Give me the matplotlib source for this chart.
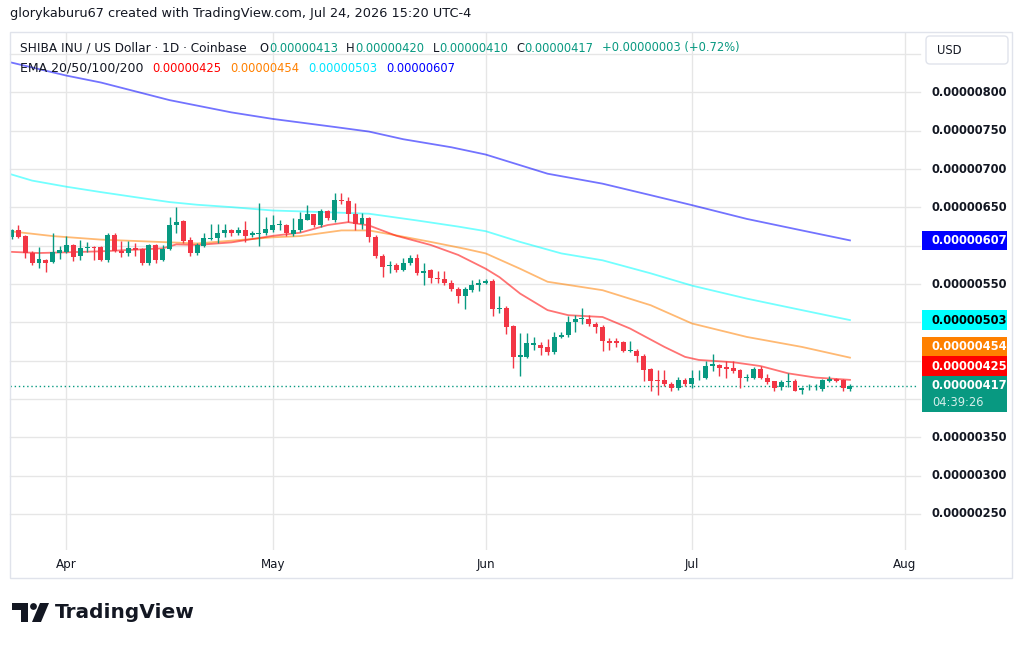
import numpy as np
import pandas as pd
import matplotlib
matplotlib.use('Agg')
import matplotlib.pyplot as plt
import matplotlib.dates as mdates
from matplotlib.patches import Rectangle, FancyBboxPatch, Polygon, Circle

# all prices are in units of 1e-8 USD (0.00000001)
SCALE = 1e-8

dates = pd.date_range('2026-03-24', '2026-07-24', freq='D')

opens = [611, 621, 613, 591, 577, 582, 579, 591,
         592, 601, 587, 597, 599, 599, 581, 614, 593, 590, 597, 596, 577, 601, 582,
         596, 627, 632, 607, 590, 600, 609, 610, 616, 620, 616, 621, 614, 615, 616,
         621, 627, 627, 615, 620, 634, 641, 627, 645, 634, 660, 658, 642, 628, 636,
         612, 587, 573, 575, 569, 577, 584, 565, 568, 558, 556, 552, 544, 535, 542, 549,
         552, 554, 517, 519, 495, 455, 455, 471, 470, 468, 462, 481, 483, 501, 504,
         505, 498, 494, 476, 476, 475, 463, 463, 456, 439, 425, 425, 420, 415, 425,
         419, 427, 428, 443, 444, 442, 440, 438, 427, 428, 439, 428, 423, 416, 422,
         424, 412, 414, 414, 413, 424, 426, 425, 413]
highs = [622, 627, 614, 593, 598, 583, 616, 600,
         613, 602, 608, 605, 600, 600, 616, 616, 606, 606, 604, 597, 602, 602, 601,
         637, 650, 633, 611, 603, 616, 629, 628, 628, 622, 625, 632, 619, 656, 637,
         640, 634, 628, 636, 644, 653, 642, 648, 647, 669, 669, 664, 656, 643, 638,
         614, 589, 580, 577, 584, 588, 589, 578, 570, 567, 567, 555, 546, 546, 555, 556,
         557, 556, 535, 521, 497, 486, 486, 481, 475, 478, 487, 487, 508, 509, 519,
         509, 501, 496, 479, 479, 476, 476, 465, 459, 441, 438, 438, 422, 429, 428,
         438, 438, 449, 459, 446, 450, 450, 439, 433, 442, 443, 432, 424, 425, 434,
         426, 416, 420, 420, 426, 430, 428, 426, 420]
lows = [609, 610, 584, 575, 571, 566, 578, 583,
        591, 580, 582, 592, 581, 580, 579, 592, 585, 587, 586, 575, 575, 577, 580,
        594, 616, 603, 587, 588, 598, 607, 603, 612, 613, 614, 605, 612, 600, 614,
        618, 621, 613, 613, 618, 633, 624, 624, 634, 631, 654, 631, 621, 622, 605,
        584, 559, 564, 566, 567, 575, 562, 549, 552, 552, 549, 541, 525, 517, 540, 541,
        550, 508, 512, 485, 441, 430, 453, 464, 457, 457, 459, 479, 481, 488, 498,
        495, 486, 463, 464, 468, 462, 461, 448, 423, 410, 405, 417, 410, 412, 417,
        414, 425, 426, 436, 430, 427, 434, 415, 424, 426, 426, 420, 410, 412, 416,
        410, 406, 412, 412, 411, 422, 422, 410, 410]
closes = [620, 611, 591, 577, 583, 578, 592, 595,
          601, 585, 597, 598, 597, 582, 614, 593, 590, 597, 594, 577, 601, 582, 596,
          627, 631, 606, 590, 601, 610, 610, 616, 620, 616, 621, 613, 616, 616, 622,
          627, 628, 616, 620, 635, 641, 627, 645, 636, 660, 658, 642, 628, 636, 611,
          586, 572, 575, 568, 578, 584, 565, 567, 558, 556, 551, 543, 535, 543, 549, 551,
          554, 517, 519, 494, 455, 457, 473, 473, 466, 462, 481, 484, 501, 504, 506,
          498, 494, 476, 473, 473, 463, 464, 456, 438, 424, 423, 420, 415, 425, 420,
          428, 428, 443, 446, 441, 439, 437, 428, 429, 439, 428, 422, 415, 422, 423,
          411, 414, 415, 415, 425, 426, 424, 414, 417]

# EMA values at a few dates
ema20_dates = ['2026-03-24', '2026-03-28', '2026-04-06', '2026-04-15', '2026-04-17',
               '2026-04-20', '2026-04-25', '2026-05-01', '2026-05-05', '2026-05-09',
               '2026-05-12', '2026-05-15', '2026-05-19', '2026-05-24', '2026-05-28',
               '2026-06-01', '2026-06-03', '2026-06-06', '2026-06-10', '2026-06-13',
               '2026-06-18', '2026-06-22', '2026-06-27', '2026-06-30', '2026-07-02',
               '2026-07-07', '2026-07-11', '2026-07-15', '2026-07-19', '2026-07-24']
ema20_vals = [592, 590.5, 592.7, 596.6, 601.8, 601, 604.4, 612.9, 617, 627,
              630.8, 626.5, 613, 601, 588, 570, 559, 537.6, 516, 509.4,
              507, 492, 468, 455, 451, 448, 443, 433.5, 428, 425]

ema50_dates = ['2026-03-24', '2026-03-30', '2026-04-06', '2026-04-15', '2026-04-20',
               '2026-05-01', '2026-05-05', '2026-05-11', '2026-05-15', '2026-05-19',
               '2026-05-24', '2026-05-29', '2026-06-01', '2026-06-06', '2026-06-10',
               '2026-06-18', '2026-06-25', '2026-07-01', '2026-07-09', '2026-07-17',
               '2026-07-24']
ema50_vals = [618.7, 612.6, 608, 604.8, 603, 611, 612.6, 620, 620, 613.5,
              605, 596, 590, 570, 553, 542, 522.4, 498.6, 481, 468, 454]

ema100_dates = ['2026-03-24', '2026-03-27', '2026-04-01', '2026-04-06', '2026-04-11',
                '2026-04-16', '2026-04-20', '2026-04-25', '2026-05-01', '2026-05-08',
                '2026-05-15', '2026-05-22', '2026-05-28', '2026-06-01', '2026-06-06',
                '2026-06-12', '2026-06-18', '2026-06-25', '2026-07-01', '2026-07-09',
                '2026-07-17', '2026-07-24']
ema100_vals = [693, 685, 677, 670, 663.4, 657, 653.5, 650.4, 646, 644,
               641.8, 633, 625, 619, 605, 590, 581, 564, 548, 531, 516, 503]

ema200_dates = ['2026-03-24', '2026-04-01', '2026-04-06', '2026-04-16', '2026-04-25',
                '2026-05-01', '2026-05-10', '2026-05-15', '2026-05-20', '2026-05-27',
                '2026-06-01', '2026-06-10', '2026-06-18', '2026-06-25', '2026-07-01',
                '2026-07-09', '2026-07-17', '2026-07-24']
ema200_vals = [839, 822, 813, 790, 774, 765.5, 755, 749, 739, 728.5,
               719, 694, 681, 666, 653, 635, 620, 607]

month_ticks = ['2026-04-01', '2026-05-01', '2026-06-01', '2026-07-01', '2026-08-01']
month_labels = ['Apr', 'May', 'Jun', 'Jul', 'Aug']
grid_levels = list(range(250, 851, 50))

GREEN = '#089981'
RED = '#f23645'
TXT = '#131722'
GRID = '#e6e6e6'

fig = plt.figure(figsize=(10.24, 6.48), dpi=100)
W, H = 1024, 648

# main pane: x 10..918 px, y 32..550 px (from top)
ax = fig.add_axes([10 / W, 1 - 550 / H, 908 / W, 518 / H])
x = mdates.date2num(dates)
apr1 = mdates.date2num(pd.Timestamp('2026-04-01'))
for s in ax.spines.values():
    s.set_visible(False)
ax.set_yticks([])
mt = mdates.date2num(pd.to_datetime(month_ticks))
ax.set_xticks(mt)
ax.set_xticklabels(month_labels)
ax.tick_params(axis='x', length=0, pad=6, labelsize=8.6, labelcolor=TXT)
for v in grid_levels:
    ax.axhline(v, color=GRID, lw=1, zorder=0, xmax=1.002, clip_on=False)
for m in mt:
    ax.axvline(m, color=GRID, lw=1, zorder=0)

# EMAs
for dl, vl, c in [(ema200_dates, ema200_vals, '#0000ff'),
                  (ema100_dates, ema100_vals, '#00ffff'),
                  (ema50_dates, ema50_vals, '#ff8000'),
                  (ema20_dates, ema20_vals, '#ff0000')]:
    ax.plot(mdates.date2num(pd.to_datetime(dl)), vl, color=c, lw=1.3, alpha=0.55, zorder=2)

# candles
for xi, o, h, l, c in zip(x, opens, highs, lows, closes):
    col = GREEN if c >= o else RED
    ax.vlines(xi, l, h, color=col, lw=1, zorder=3)
    ax.bar(xi, max(abs(c - o), 1.0), bottom=min(o, c), width=0.72, color=col, zorder=4, lw=0)

# last price dotted line
ax.axhline(closes[-1], color=GREEN, lw=1, ls=(0, (1, 2)), zorder=1)

ax.set_xlim(apr1 - 8.22, apr1 + 123.9)
ax.set_ylim(203.0, 878.9)

# overlay in pixel coords for decorations
ov = fig.add_axes([0, 0, 1, 1])
ov.set_xlim(0, W)
ov.set_ylim(H, 0)
ov.axis('off')


def py(p):
    d = ax.transData.transform((x[0], p))
    return ov.transData.inverted().transform(d)[1]


ov.add_patch(Rectangle((10, 32), 1002, 546, fill=False, ec='#e0e3eb', lw=1))

ov.text(10, 13, 'glorykaburu67 created with TradingView.com, Jul 24, 2026 15:20 UTC-4',
        fontsize=9.3, color=TXT, va='center')

fs = 8.3
ov.text(20, 48, 'SHIBA INU / US Dollar · 1D · Coinbase', fontsize=8.7, color=TXT, va='center')
ohlc = [('O', 259.5, 269, opens[-1]), ('H', 346, 355, highs[-1]),
        ('L', 432.5, 439, lows[-1]), ('C', 516, 524.5, closes[-1])]
for lab, xl, xv, v in ohlc:
    ov.text(xl, 48, lab, fontsize=fs, color=TXT, va='center')
    ov.text(xv, 48, '%.8f' % (v * SCALE), fontsize=fs, color=GREEN, va='center')
chg = closes[-1] - closes[-2]
pct = 100.0 * chg / closes[-2]
ov.text(602, 48, '+%.8f (+%.2f%%)' % (chg * SCALE, pct), fontsize=fs, color=GREEN, va='center')

ov.text(20, 68, 'EMA 20/50/100/200', fontsize=9.0, color=TXT, va='center')
for xv, v, c in [(152, ema20_vals[-1], '#ff0000'), (230.5, ema50_vals[-1], '#ff8000'),
                 (308, ema100_vals[-1], '#00e5ff'), (386, ema200_vals[-1], '#0000ff')]:
    ov.text(xv, 68, '%.8f' % (v * SCALE), fontsize=fs, color=c, va='center')

# USD box
ov.add_patch(FancyBboxPatch((926, 36), 82, 28, boxstyle='round,pad=0,rounding_size=4',
                            fc='white', ec='#e0e3eb', lw=1))
ov.text(936.5, 50.5, 'USD', fontsize=fs, color=TXT, va='center')

# last-value tags, stacked from the bottom up
bh = 19.5
tags = [(closes[-1], GREEN, 'white'), (ema20_vals[-1], '#ff0000', 'white'),
        (ema50_vals[-1], '#ff8000', 'white'), (ema100_vals[-1], '#00ffff', 'black'),
        (ema200_vals[-1], '#0000ff', 'white')]
spans = [(36, 64)]
prev_top = None
for i, (v, c, tc) in enumerate(tags):
    yc = py(v)
    if i == 0:
        top, bot = yc - 10, yc + 26.5
    else:
        top, bot = yc - bh / 2, yc + bh / 2
        if bot > prev_top:
            bot = prev_top
            top = bot - bh
    prev_top = top
    spans.append((top, bot))
    ov.add_patch(Rectangle((922, top), 85, bot - top, fc=c, ec='none'))
    yt = yc if i == 0 else (top + bot) / 2
    ov.text(932, yt, '%.8f' % (v * SCALE), fontsize=fs, color=tc, va='center', weight='bold')
    if i == 0:
        ov.text(932, yt + 16.5, '04:39:26', fontsize=fs, color='#d6efeb', va='center')

# price scale labels not covered by tags
for v in grid_levels:
    yv = py(v)
    if yv < 40 or yv > 540:
        continue
    if any(t - 3 <= yv <= b + 3 for t, b in spans):
        continue
    ov.text(932, yv, '%.8f' % (v * SCALE), fontsize=fs, color=TXT, va='center', weight='bold')

# TradingView logo
ov.add_patch(Polygon([(12, 603), (28, 603), (28, 622), (21, 622), (21, 610), (12, 610)],
                     closed=True, fc=TXT, ec='none'))
ov.add_patch(Circle((33.5, 606.5), 3.4, fc=TXT, ec='none'))
ov.add_patch(Polygon([(40, 603), (49, 603), (41, 622), (32, 622)], closed=True, fc=TXT, ec='none'))
ov.text(55, 613, 'TradingView', fontsize=14.5, weight='bold', color=TXT, va='center')

fig.savefig('out.png', dpi=100)
